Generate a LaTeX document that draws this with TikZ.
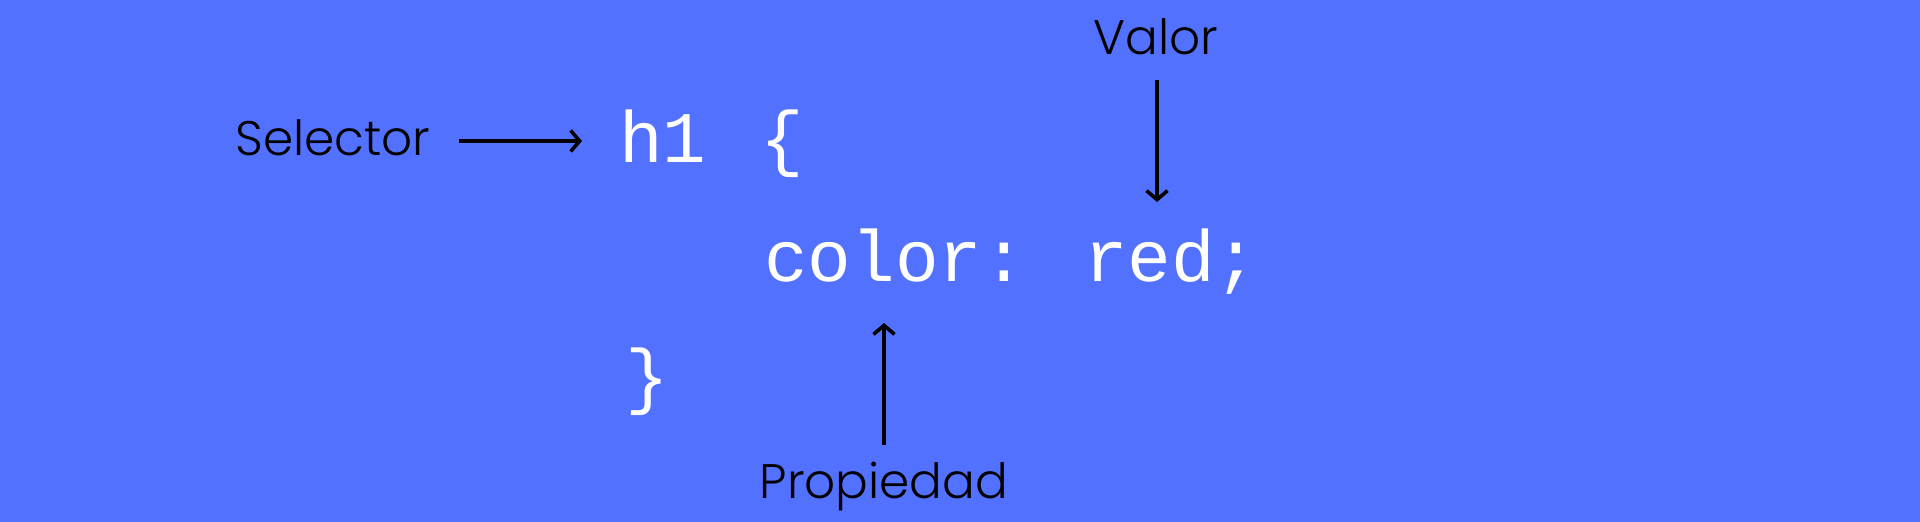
\documentclass[tikz,border=0pt]{standalone}
\usepackage{fontspec}
\setmainfont{Poppins Light}
\newfontfamily\codefont{Liberation Mono}
\usetikzlibrary{arrows.meta}
\definecolor{bgblue}{HTML}{5271FF}
\tikzset{
  code/.style={text=white, inner sep=0pt, anchor=base west, font=\codefont\fontsize{72.7}{80}\selectfont},
  lbl/.style={text=black, inner sep=0pt, anchor=base, font=\fontsize{48.5}{60}\selectfont},
  pointer/.style={draw=black, line width=3.6pt, -{Straight Barb[length=9pt,width=21pt,line width=3.6pt]}}
}
\begin{document}
\begin{tikzpicture}[x=1pt,y=-1pt]
\fill[bgblue] (0,0) rectangle (1920,522);
\useasboundingbox (0,0) rectangle (1920,522);
\node[code] (h1) at (619,162) {h1};
\node[code] (lbrace) at (760,162) {\{};
\node[code] (decl) at (764,281) {color: red;};
\node[code] (rbrace) at (625,400) {\}};
\node[lbl] (sel) at (333,155) {Selector};
\node[lbl] (valor) at (1156,54) {Valor};
\node[lbl] (prop) at (884,498) {Propiedad};
\coordinate (selA) at (459,141);
\coordinate (selB) at (582,141);
\coordinate (valA) at (1157,80);
\coordinate (valB) at (1157,202);
\coordinate (propA) at (884,445);
\coordinate (propB) at (884,323);
\draw[pointer] (selA) -- (selB);
\draw[pointer] (valA) -- (valB);
\draw[pointer] (propA) -- (propB);
\end{tikzpicture}
\end{document}
